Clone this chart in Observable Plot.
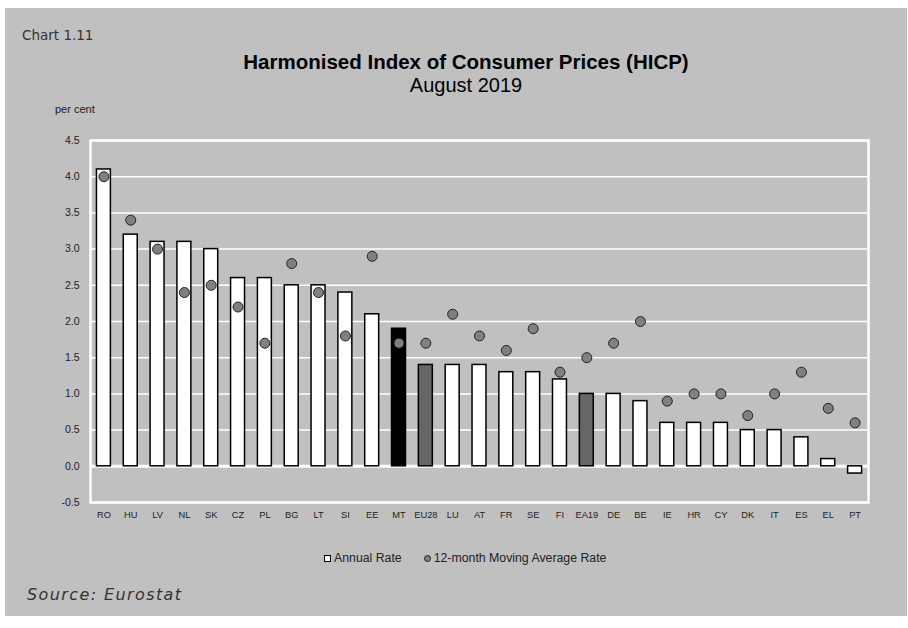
<!DOCTYPE html>
<html>
<head>
<meta charset="utf-8">
<script src="https://cdn.jsdelivr.net/npm/d3@7"></script>
<script src="https://cdn.jsdelivr.net/npm/@observablehq/plot@0.6"></script>
<style>
  html, body { margin: 0; padding: 0; background: #fff; }
  #page { position: relative; width: 908px; height: 628px; background: #fff; overflow: hidden; }
  #panel { position: absolute; left: 5px; top: 8px; width: 902px; height: 608px; background: #c0c0c0; }
  .abs { position: absolute; white-space: nowrap; color: #222; line-height: 1; }
  #chartno { left: 22px; top: 29px; font-family: "DejaVu Sans", sans-serif; font-size: 13.5px; color: #333; }
  #title { left: 0; width: 932px; text-align: center; top: 52px; font-family: "Liberation Sans", Arial, sans-serif; font-weight: bold; font-size: 20.5px; color: #000; }
  #subtitle { left: 0; width: 932px; text-align: center; top: 75px; font-family: "Liberation Sans", Arial, sans-serif; font-size: 20px; color: #000; }
  #unit { left: 55px; top: 104px; font-family: "Liberation Sans", Arial, sans-serif; font-size: 11px; }
  #chart { position: absolute; left: 0; top: 0; }
  #legend { left: 324px; top: 552px; font-family: "Liberation Sans", Arial, sans-serif; font-size: 12.3px; display: flex; align-items: center; }
  .sq { display: inline-block; width: 5px; height: 5px; background: #fff; border: 1.5px solid #000; margin-right: 3px; }
  .ci { display: inline-block; width: 5px; height: 5px; border-radius: 50%; background: #808080; border: 1px solid #222; margin-right: 3px; margin-left: 22px; }
  #source { left: 27px; top: 587px; font-family: "DejaVu Sans", sans-serif; font-style: italic; font-size: 16px; letter-spacing: 1.4px; color: #333; }
</style>
</head>
<body>
<div id="page">
  <div id="panel"></div>
  <div id="chart"></div>
  <div class="abs" id="chartno">Chart 1.11</div>
  <div class="abs" id="title">Harmonised Index of Consumer Prices (HICP)</div>
  <div class="abs" id="subtitle">August 2019</div>
  <div class="abs" id="unit">per cent</div>
  <div class="abs" id="legend"><span class="sq"></span>Annual Rate<span class="ci"></span>12-month Moving Average Rate</div>
  <div class="abs" id="source">Source: Eurostat</div>
</div>
<script>
const countries = ["RO","HU","LV","NL","SK","CZ","PL","BG","LT","SI","EE","MT","EU28","LU","AT","FR","SE","FI","EA19","DE","BE","IE","HR","CY","DK","IT","ES","EL","PT"];
const annualRate = [4.1,3.2,3.1,3.1,3.0,2.6,2.6,2.5,2.5,2.4,2.1,1.9,1.4,1.4,1.4,1.3,1.3,1.2,1.0,1.0,0.9,0.6,0.6,0.6,0.5,0.5,0.4,0.1,-0.1];
const movingAverage = [4.0,3.4,3.0,2.4,2.5,2.2,1.7,2.8,2.4,1.8,2.9,1.7,1.7,2.1,1.8,1.6,1.9,1.3,1.5,1.7,2.0,0.9,1.0,1.0,0.7,1.0,1.3,0.8,0.6];
const yTicks = [-0.5,0,0.5,1,1.5,2,2.5,3,3.5,4,4.5];

const data = countries.map((c, i) => ({country: c, annual: annualRate[i], avg: movingAverage[i]}));
const barFill = d => d.country === "MT" ? "#000000" : (d.country === "EU28" || d.country === "EA19") ? "#666666" : "#ffffff";

const chart = Plot.plot({
  width: 908,
  height: 540,
  marginTop: 140,
  marginBottom: 38,
  marginLeft: 90,
  marginRight: 40,
  style: {background: "transparent", fontFamily: "'Liberation Sans', Arial, sans-serif", color: "#222"},
  x: {domain: countries, paddingInner: 0.48, paddingOuter: 0.24, round: false, label: null},
  y: {domain: [-0.5, 4.5], label: null},
  color: {type: "identity"},
  marks: [
    Plot.ruleY(yTicks, {stroke: "#ffffff", strokeWidth: 1.5}),
    Plot.ruleY([0], {stroke: "#ffffff", strokeWidth: 3}),
    Plot.frame({stroke: "#ffffff", strokeWidth: 2.5}),
    Plot.barY(data, {x: "country", y: "annual", fill: barFill, stroke: "#000", strokeWidth: 1.5}),
    Plot.dot(data, {x: "country", y: "avg", r: 5, fill: "#808080", stroke: "#222", strokeWidth: 1}),
    Plot.axisY(yTicks, {tickSize: 0, tickPadding: 11, tickFormat: d => d.toFixed(1), fontSize: 10.5, label: null}),
    Plot.axisX({tickSize: 0, tickPadding: 9, fontSize: 9.3, label: null})
  ]
});
document.getElementById("chart").appendChild(chart);
</script>
</body>
</html>
